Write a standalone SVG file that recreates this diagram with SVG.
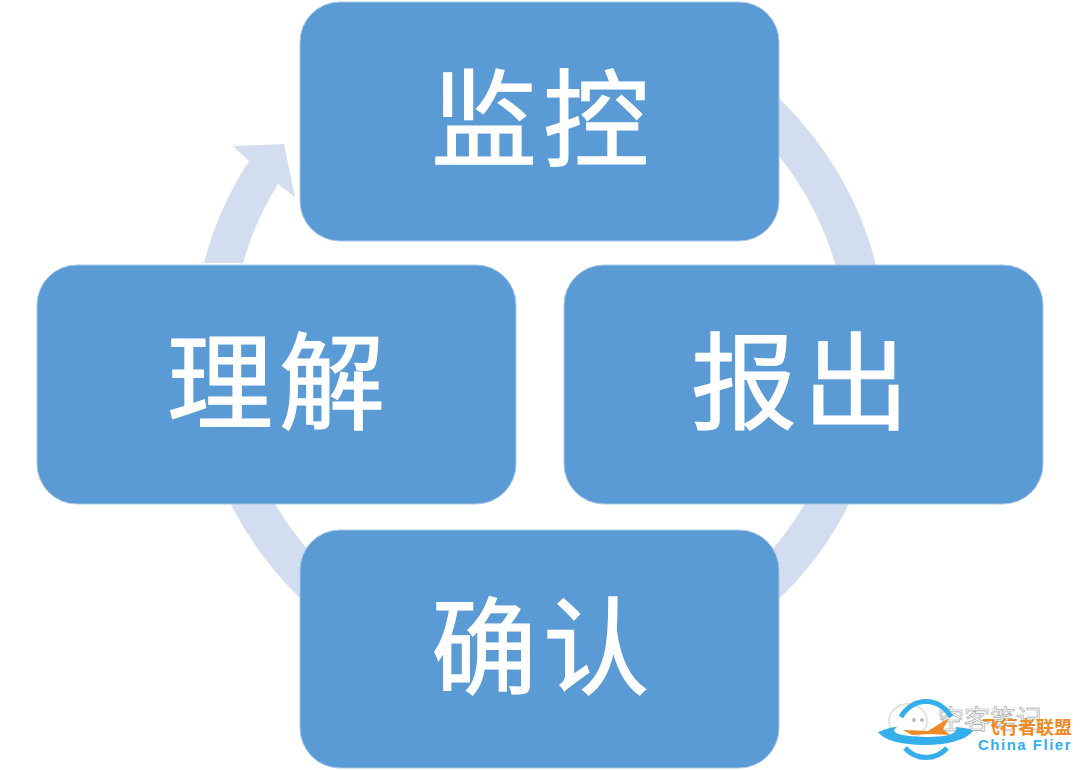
<svg xmlns="http://www.w3.org/2000/svg" width="1080" height="770" viewBox="0 0 1080 770">
<style>
.box{fill:#5b9bd5;stroke:#a9c8e8;stroke-width:1}
.lbl{font-family:"Noto Sans CJK SC","Noto Sans",sans-serif;font-size:106px;letter-spacing:6px;fill:#fff;stroke:#fff;stroke-width:1.2;text-anchor:middle}
.band{fill:#d2deef}
.cn{font-family:"Noto Sans CJK SC",sans-serif}
</style>
<rect width="1080" height="770" fill="#fff"/>
<g id="connectors">
<path d="M700 64A326.5 326.5 0 1 1 217.5 400" fill="none" stroke="#d2deef" stroke-width="39"/>
<path class="band" d="M204 263A346 346 0 0 1 249 161L233 146L284 144L295 197L278 184A308 308 0 0 0 243 263Z"/>
</g>
<g id="node-monitor"><rect class="box" x="300" y="2" width="479" height="239" rx="40"/><text class="lbl" x="543" y="158">监控</text></g>
<g id="node-report"><rect class="box" x="564" y="265" width="479" height="239" rx="40"/><text class="lbl" x="803" y="421">报出</text></g>
<g id="node-understand"><rect class="box" x="37" y="265" width="479" height="239" rx="40"/><text class="lbl" x="279" y="421">理解</text></g>
<g id="node-confirm"><rect class="box" x="300" y="530" width="479" height="238" rx="40"/><text class="lbl" x="543" y="686">确认</text></g>
<g id="watermark">
<ellipse cx="908" cy="721" rx="19" ry="17" fill="#fff" stroke="#e2e2e2" stroke-width="2"/>
<circle cx="914" cy="720" r="2" fill="#bbb"/><circle cx="922" cy="720" r="2" fill="#bbb"/>
<text class="cn" x="938" y="729" font-size="26" fill="#fff" stroke="#a8a8a8" stroke-width="0.7">空客笔记</text>
<path d="M901 717A28 28 0 0 1 951 717M905 748A28 28 0 0 0 947 748" fill="none" stroke="#33b0ec" stroke-width="5"/>
<path d="M878 732C888 728 893 727 897 727C890 732 895 736 926 737C950 737 958 733 956 727C966 728 972 729 973 731C965 741 945 745 926 745C900 745 884 740 878 732Z" fill="#33b0ec"/>
<path d="M903 730L928 731L949 718L943 729L950 735L930 734L912 735Z" fill="#f08a24"/>
<text class="cn" x="982" y="734" font-size="18" font-weight="700" fill="#f08a24">飞行者联盟</text>
<text x="978" y="750" font-family="Liberation Sans,sans-serif" font-size="15" font-weight="700" letter-spacing="1.5" fill="#33b0ec">China Flier</text>
</g>
</svg>
